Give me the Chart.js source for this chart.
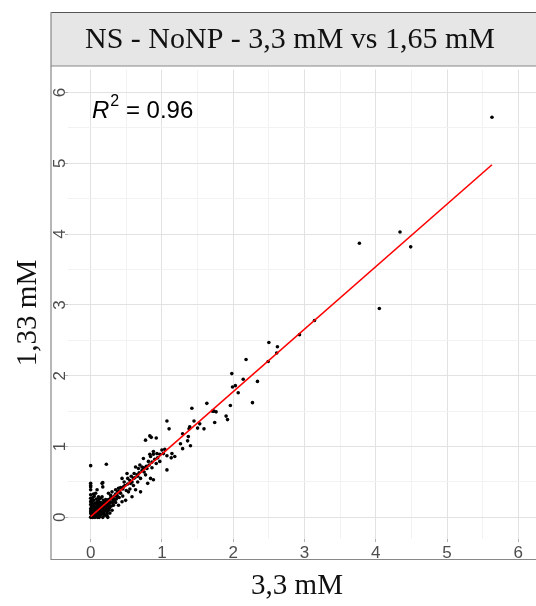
<!DOCTYPE html>
<html>
<head>
<meta charset="utf-8">
<script src="https://cdn.jsdelivr.net/npm/chart.js@4"></script>
<style>
  html, body { margin: 0; padding: 0; background: #fff; overflow: hidden; }
  #wrap { position: absolute; left: 0; top: 0; width: 560px; height: 606px; }
</style>
</head>
<body>
<div id="wrap"><canvas id="chart" width="560" height="606"></canvas></div>
<script>
// 3,3 mM (x) vs 1,65 mM (y) values
const xVals = [
  5.63, 3.77, 4.34, 4.49, 4.05, 3.14, 2.93, 2.50, 2.62, 2.61, 2.49, 2.18, 1.98, 2.14, 2.34, 1.99, 2.03, 2.07, 2.27, 1.96,
  1.63, 1.42, 1.71, 1.73, 1.76, 1.74, 1.90, 1.92, 1.07, 1.10, 1.45, 1.39, 1.53, 1.59, 1.50, 1.38, 1.29, 1.37, 1.36, 1.40,
  1.26, 1.29, 1.18, 1.14, 1.13, 1.07, 1.02, 0.97, 0.93, 0.88, 0.83, 1.04, 0.92, 0.83, 0.77, 0.85, 1.07, 1.00,
  0.97, 0.88, 0.84, 0.81, 0.74, 0.72, 0.79, 0.67, 0.63, 0.65, 0.60, 0.77, 0.84, 0.88, 0.80, 0.44, 0.51, 0.56, 0.46, 0.39,
  0.35, 0.30, 0.25, 0.42, 0.53, 0.63, 0.70, 0.37, 0.32, 0.28, 0.23, 0.18, 0.16, 0.16, 0.17, 0.00, 0.00, 0.00, 0.07, 0.09,
  0.11, 0.04, 0.30, 0.32, 0.39, 0.44, 0.49, 0.58, 0.23, 0.16, 0.00, 0.22, 0.00, 0.00, 0.17, 0.24,
  0.35, 0.40, 0.45, 0.48, 0.52, 0.55, 0.58, 0.62, 0.66, 0.68, 0.72, 0.75, 0.78, 0.82, 0.86, 0.90, 0.94, 0.60, 0.66, 0.70,
  0.55, 0.50, 0.45, 0.40, 0.36, 0.33, 0.27, 0.28, 0.25, 0.22, 0.20, 0.26, 0.35, 0.30, 0.38, 0.42, 0.47, 0.52, 0.57, 0.61,
  0.69, 0.74, 0.86, 0.92,
  0.00, 0.01, 0.02, 0.03, 0.01, 0.00, 0.04, 0.05, 0.06, 0.02, 0.07, 0.08, 0.03, 0.00, 0.09, 0.10, 0.05, 0.11, 0.12, 0.06,
  0.13, 0.14, 0.08, 0.15, 0.16, 0.10, 0.17, 0.18, 0.12, 0.19, 0.20, 0.14, 0.21, 0.22, 0.00, 0.00, 0.02, 0.04, 0.00, 0.03,
  0.06, 0.09, 0.12, 0.15, 0.18, 0.20, 0.22, 0.24, 0.13, 0.10, 0.06, 0.17, 0.20, 0.25, 0.27, 0.01, 0.05, 0.08, 0.11, 0.03,
  0.07, 0.19, 0.23, 0.15, 0.09, 0.00, 0.02, 0.04, 0.12, 0.16, 0.21, 0.26, 0.08, 0.05, 0.11, 0.14,
  0.03, 0.07, 0.10, 0.14, 0.18, 0.22, 0.26, 0.29, 0.31, 0.34, 0.02, 0.06, 0.09, 0.13, 0.17, 0.21, 0.24, 0.28, 0.01, 0.04,
  0.08, 0.12, 0.15, 0.19, 0.23, 0.27, 0.30, 0.33, 0.37, 0.41
];
const yVals = [
  5.65, 3.87, 4.03, 3.82, 2.95, 2.78, 2.58, 2.47, 2.41, 2.32, 2.20, 2.23, 2.03, 1.95, 1.92, 1.84, 1.86, 1.76, 1.62, 1.58,
  1.61, 1.54, 1.50, 1.50, 1.49, 1.34, 1.43, 1.38, 1.36, 1.25, 1.36, 1.28, 1.32, 1.25, 1.26, 1.25, 1.18, 1.14, 1.08, 1.01,
  1.04, 0.97, 0.86, 0.90, 0.84, 0.87, 0.90, 0.89, 0.90, 0.89, 0.89, 0.96, 1.12, 1.15, 1.09, 1.13, 0.67, 0.95,
  0.79, 0.93, 0.86, 0.79, 0.83, 0.71, 0.69, 0.69, 0.71, 0.60, 0.55, 0.60, 0.55, 0.53, 0.48, 0.55, 0.62, 0.48, 0.43, 0.41,
  0.39, 0.36, 0.34, 0.34, 0.36, 0.39, 0.36, 0.29, 0.24, 0.27, 0.22, 0.24, 0.29, 0.48, 0.43, 0.43, 0.39, 0.32, 0.34, 0.39,
  0.29, 0.24, 0.10, 0.17, 0.17, 0.22, 0.24, 0.29, 0.08, 0.13, 0.73, 0.75, 0.48, 0.45, 0.49, 0.00,
  0.33, 0.37, 0.40, 0.45, 0.47, 0.52, 0.50, 0.56, 0.58, 0.63, 0.66, 0.64, 0.72, 0.74, 0.78, 0.82, 0.84, 0.45, 0.50, 0.55,
  0.40, 0.38, 0.30, 0.28, 0.26, 0.30, 0.20, 0.31, 0.25, 0.18, 0.21, 0.14, 0.21, 0.28, 0.36, 0.42, 0.50, 0.55, 0.58, 0.62,
  0.74, 0.70, 0.70, 0.76,
  0.00, 0.01, 0.00, 0.02, 0.04, 0.06, 0.05, 0.02, 0.06, 0.08, 0.03, 0.08, 0.11, 0.12, 0.05, 0.10, 0.09, 0.07, 0.12, 0.13,
  0.09, 0.14, 0.15, 0.11, 0.16, 0.17, 0.13, 0.18, 0.19, 0.15, 0.20, 0.21, 0.17, 0.23, 0.18, 0.22, 0.20, 0.16, 0.27, 0.28,
  0.20, 0.22, 0.26, 0.04, 0.06, 0.09, 0.12, 0.16, 0.02, 0.00, 0.00, 0.00, 0.03, 0.10, 0.06, 0.15, 0.18, 0.02, 0.14, 0.06,
  0.11, 0.10, 0.05, 0.19, 0.18, 0.09, 0.13, 0.01, 0.04, 0.08, 0.14, 0.20, 0.26, 0.30, 0.23, 0.27,
  0.00, 0.01, 0.03, 0.05, 0.07, 0.10, 0.13, 0.16, 0.21, 0.25, 0.03, 0.07, 0.11, 0.16, 0.20, 0.25, 0.19, 0.22, 0.24, 0.33,
  0.01, 0.00, 0.12, 0.04, 0.02, 0.15, 0.27, 0.23, 0.31, 0.35
];
// fitted line end points
const fitX = [0, 5.63];
const fitY = [0.01, 4.98];

const panelTitle = "NS - NoNP - 3,3 mM vs 1,65 mM";
const xTitle = "3,3 mM";
const yTitle = "1,33 mM";
const r2Text = "0.96";

const points = xVals.map((x, i) => ({ x: x, y: yVals[i] }));
const fitLine = fitX.map((x, i) => ({ x: x, y: fitY[i] }));

const serif = '"Liberation Serif", "DejaVu Serif", serif';
const sans = '"Liberation Sans", Arial, sans-serif';

const isWhole = v => Math.abs(v - Math.round(v)) < 1e-6;

// strip, frame, titles, rotated y labels, R² note
const decorations = {
  id: "decorations",
  afterDraw(chart) {
    const ctx = chart.ctx;
    const y = chart.scales.y;
    ctx.save();

    // strip
    ctx.fillStyle = "#e6e6e6";
    ctx.fillRect(51, 12, 520, 54);
    ctx.strokeStyle = "#555";
    ctx.lineWidth = 1.2;
    ctx.beginPath();
    ctx.moveTo(51, 12.5); ctx.lineTo(570, 12.5);
    ctx.stroke();
    ctx.strokeStyle = "#888";
    ctx.beginPath();
    ctx.moveTo(51, 66); ctx.lineTo(570, 66);
    ctx.moveTo(51, 12); ctx.lineTo(51, 559.5);
    ctx.lineTo(570, 559.5);
    ctx.stroke();

    ctx.fillStyle = "#111";
    ctx.font = "30px " + serif;
    ctx.textAlign = "center";
    ctx.textBaseline = "middle";
    ctx.fillText(panelTitle, 290, 40);

    // axis titles
    ctx.font = "29px " + serif;
    ctx.fillText(xTitle, 297, 586);
    ctx.save();
    ctx.translate(28, 313);
    ctx.rotate(-Math.PI / 2);
    ctx.fillText(yTitle, 0, 0);
    ctx.restore();

    // y tick labels, rotated like the reference
    ctx.fillStyle = "#4d4d4d";
    ctx.font = "17px " + sans;
    y.ticks.forEach(t => {
      if (!isWhole(t.value)) return;
      const py = y.getPixelForValue(t.value);
      ctx.save();
      ctx.translate(59, py);
      ctx.rotate(-Math.PI / 2);
      ctx.fillText(String(Math.round(t.value)), 0, 1);
      ctx.restore();
    });

    // R² label
    ctx.fillStyle = "#000";
    ctx.textAlign = "left";
    ctx.textBaseline = "alphabetic";
    let px = 92;
    ctx.font = "italic 24px " + sans;
    ctx.fillText("R", px, 118);
    px += ctx.measureText("R").width + 1;
    ctx.font = "16px " + sans;
    ctx.fillText("2", px, 106);
    px += ctx.measureText("2").width;
    ctx.font = "24px " + sans;
    ctx.fillText(" = " + r2Text, px, 118);

    ctx.restore();
  }
};

const gridOpts = {
  color: c => isWhole(c.tick.value) ? "#e2e2e2" : "#f2f2f2",
  tickColor: c => isWhole(c.tick.value) ? "#b3b3b3" : "rgba(0,0,0,0)",
  tickLength: 3,
  lineWidth: 1
};

new Chart(document.getElementById("chart"), {
  type: "scatter",
  data: {
    datasets: [
      {
        type: "line",
        data: fitLine,
        borderColor: "#ff0000",
        borderWidth: 1.6,
        pointRadius: 0,
        fill: false,
        order: 0
      },
      {
        data: points,
        backgroundColor: "#000",
        borderWidth: 0,
        pointRadius: 1.8,
        order: 1
      }
    ]
  },
  options: {
    responsive: false,
    animation: false,
    devicePixelRatio: 1,
    layout: { padding: { left: 0, top: 69.5, right: 18.5, bottom: 0 } },
    plugins: { legend: { display: false }, tooltip: { enabled: false } },
    scales: {
      x: {
        type: "linear",
        min: -0.318,
        max: 6.325,
        afterFit: s => { s.height = 67; },
        border: { display: false },
        grid: gridOpts,
        ticks: {
          stepSize: 0.5,
          includeBounds: false,
          autoSkip: false,
          maxRotation: 0,
          padding: 1,
          color: "#4d4d4d",
          font: { family: sans, size: 17 },
          callback: v => isWhole(v) ? String(Math.round(v)) : ""
        }
      },
      y: {
        type: "linear",
        min: -0.306,
        max: 6.325,
        afterFit: s => { s.width = 68; },
        border: { display: false },
        grid: gridOpts,
        ticks: {
          stepSize: 0.5,
          includeBounds: false,
          autoSkip: false,
          display: false
        }
      }
    }
  },
  plugins: [decorations]
});
</script>
</body>
</html>
